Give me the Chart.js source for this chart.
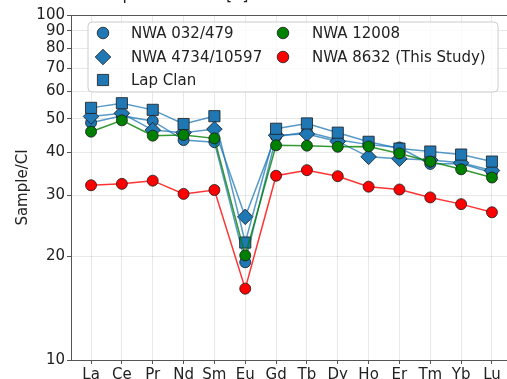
<!DOCTYPE html>
<html>
<head>
<meta charset="utf-8">
<script src="https://cdn.jsdelivr.net/npm/chart.js@4.4.1/dist/chart.umd.min.js"></script>
<style>
  html, body { margin: 0; padding: 0; background: #fff; overflow: hidden; }
  #wrap { position: relative; width: 507px; height: 379px; overflow: hidden; }
  #reeChart { position: absolute; left: 0; top: -20px; }
</style>
</head>
<body>
<div id="wrap"><canvas id="reeChart" width="600" height="409"></canvas></div>
<script>
// Elementos (tierras raras) y valores normalizados a CI
const elementos = ['La', 'Ce', 'Pr', 'Nd', 'Sm', 'Eu', 'Gd', 'Tb', 'Dy', 'Ho', 'Er', 'Tm', 'Yb', 'Lu'];
const nwa032 = [48.7, 51.0, 49.3, 43.4, 42.8, 19.2, 44.4, 45.8, 43.5, 42.1, 41.3, 37.0, 37.1, 34.9];
const nwa4734 = [50.8, 51.9, 46.4, 45.6, 46.7, 26.0, 44.8, 45.2, 43.0, 38.8, 38.3, 38.0, 37.3, 35.4];
const lapClan = [53.8, 55.5, 53.1, 48.3, 50.9, 21.9, 46.8, 48.5, 45.6, 42.9, 41.0, 40.2, 39.4, 37.6];
const nwa12008 = [45.9, 49.5, 44.7, 44.9, 43.9, 20.1, 41.9, 41.8, 41.5, 41.6, 39.7, 37.6, 35.7, 33.8];
const nwa8632 = [32.1, 32.4, 33.1, 30.3, 31.1, 16.1, 34.2, 35.5, 34.1, 31.8, 31.2, 29.6, 28.3, 26.8];
const yTicks = [10, 20, 30, 40, 50, 60, 70, 80, 90, 100];

const AZUL = '#1f77b4';
const VERDE = '#008000';
const ROJO = '#ff0000';

Chart.defaults.font.family = 'DejaVu Sans';
Chart.defaults.font.size = 15;
Chart.defaults.color = '#222';

function serie(label, valores, color, colorLinea, estilo, radio) {
    return {
        label: label,
        data: valores.map((v, i) => ({ x: i, y: v })),
        borderColor: colorLinea,
        backgroundColor: color,
        pointBackgroundColor: color,
        pointBorderColor: '#1a1a1a',
        pointBorderWidth: 0.8,
        pointStyle: estilo,
        pointRadius: radio,
        pointHoverRadius: radio,
        borderWidth: 1.5,
        tension: 0
    };
}

const datasets = [
    serie('NWA 032/479', nwa032, AZUL, 'rgba(31,119,180,0.75)', 'circle', 5.5),
    serie('NWA 4734/10597', nwa4734, AZUL, 'rgba(31,119,180,0.75)', 'rectRot', 7.8),
    serie('Lap Clan', lapClan, AZUL, 'rgba(31,119,180,0.75)', 'rect', 7.9),
    serie('NWA 12008', nwa12008, VERDE, 'rgba(0,128,0,0.8)', 'circle', 5.5),
    serie('NWA 8632 (This Study)', nwa8632, ROJO, 'rgba(255,0,0,0.8)', 'circle', 5.5)
];
// las series posteriores quedan encima
datasets.forEach((d, i) => { d.order = datasets.length - i; });

function marcador(ctx, estilo, x, y, color) {
    ctx.save();
    ctx.fillStyle = color;
    ctx.strokeStyle = '#1a1a1a';
    ctx.lineWidth = 0.8;
    ctx.beginPath();
    if (estilo === 'circle') {
        ctx.arc(x, y, 5.8, 0, Math.PI * 2);
    } else if (estilo === 'rect') {
        ctx.rect(x - 5.6, y - 5.6, 11.2, 11.2);
    } else {
        const r = 7.8;
        ctx.moveTo(x - r, y);
        ctx.lineTo(x, y - r);
        ctx.lineTo(x + r, y);
        ctx.lineTo(x, y + r);
        ctx.closePath();
    }
    ctx.fill();
    ctx.stroke();
    ctx.restore();
}

// Marco superior y titulo (recortado arriba)
const marco = {
    id: 'marco',
    beforeDatasetsDraw(chart) {
        const { ctx, chartArea: a } = chart;
        ctx.save();
        ctx.strokeStyle = '#555';
        ctx.lineWidth = 1;
        ctx.beginPath();
        ctx.moveTo(a.left, a.top + 0.5);
        ctx.lineTo(a.right, a.top + 0.5);
        ctx.lineTo(a.right - 0.5, a.bottom);
        ctx.stroke();
        ctx.restore();
    },
    afterDraw(chart) {
        const ctx = chart.ctx;
        ctx.save();
        ctx.font = '16px "DejaVu Sans"';
        ctx.fillStyle = '#222';
        ctx.textBaseline = 'alphabetic';
        ctx.fillText('Comparison with [1] Lunar Basalts', 86, 20);
        ctx.restore();
    }
};

// Leyenda dentro del area del grafico, dos columnas
const leyenda = {
    id: 'leyenda',
    afterDraw(chart) {
        const { ctx, chartArea: a } = chart;
        const x0 = a.left + 17, y0 = a.top + 7, w = 410, h = 70, r = 4;
        ctx.save();
        ctx.beginPath();
        ctx.moveTo(x0 + r, y0);
        ctx.lineTo(x0 + w - r, y0);
        ctx.quadraticCurveTo(x0 + w, y0, x0 + w, y0 + r);
        ctx.lineTo(x0 + w, y0 + h - r);
        ctx.quadraticCurveTo(x0 + w, y0 + h, x0 + w - r, y0 + h);
        ctx.lineTo(x0 + r, y0 + h);
        ctx.quadraticCurveTo(x0, y0 + h, x0, y0 + h - r);
        ctx.lineTo(x0, y0 + r);
        ctx.quadraticCurveTo(x0, y0, x0 + r, y0);
        ctx.closePath();
        ctx.fillStyle = 'rgba(255,255,255,0.8)';
        ctx.fill();
        ctx.strokeStyle = '#cccccc';
        ctx.lineWidth = 1;
        ctx.stroke();

        const filas = [18, 42, 65];
        const columnas = [{ m: 32, t: 60 }, { m: 212, t: 241 }];
        ctx.font = '15px "DejaVu Sans"';
        ctx.fillStyle = '#222';
        ctx.textBaseline = 'middle';
        chart.data.datasets.forEach((d, i) => {
            const col = columnas[i < 3 ? 0 : 1];
            const fy = a.top + filas[i < 3 ? i : i - 3];
            marcador(ctx, d.pointStyle, a.left + col.m, fy, d.pointBackgroundColor);
            ctx.fillStyle = '#222';
            ctx.fillText(d.label, a.left + col.t, fy + 1);
        });
        ctx.restore();
    }
};

new Chart(document.getElementById('reeChart'), {
    type: 'line',
    data: { datasets: datasets },
    options: {
        responsive: false,
        animation: false,
        layout: { padding: { top: 35, right: 88, bottom: 0, left: 0 } },
        plugins: {
            legend: { display: false },
            tooltip: { enabled: false },
            title: { display: false }
        },
        scales: {
            x: {
                type: 'linear',
                bounds: 'data',
                min: -0.65,
                max: 13.65,
                afterBuildTicks: s => { s.ticks = elementos.map((e, i) => ({ value: i })); },
                afterFit: s => { s.height = 29; },
                ticks: {
                    callback: v => elementos[v],
                    autoSkip: false,
                    maxRotation: 0,
                    padding: 2
                },
                grid: { color: 'rgba(0,0,0,0.09)', tickColor: '#555', tickLength: 4 },
                border: { color: '#555', width: 1 }
            },
            y: {
                type: 'logarithmic',
                min: 10,
                max: 100,
                afterBuildTicks: s => { s.ticks = yTicks.map(v => ({ value: v })); },
                afterFit: s => { s.width = 71; },
                ticks: {
                    callback: v => String(v),
                    autoSkip: false,
                    padding: 2
                },
                grid: { color: 'rgba(0,0,0,0.09)', tickColor: '#555', tickLength: 4 },
                border: { color: '#555', width: 1 },
                title: {
                    display: true,
                    text: 'Sample/CI',
                    padding: { top: 14, bottom: 0 }
                }
            }
        }
    },
    plugins: [marco, leyenda]
});
</script>
</body>
</html>
